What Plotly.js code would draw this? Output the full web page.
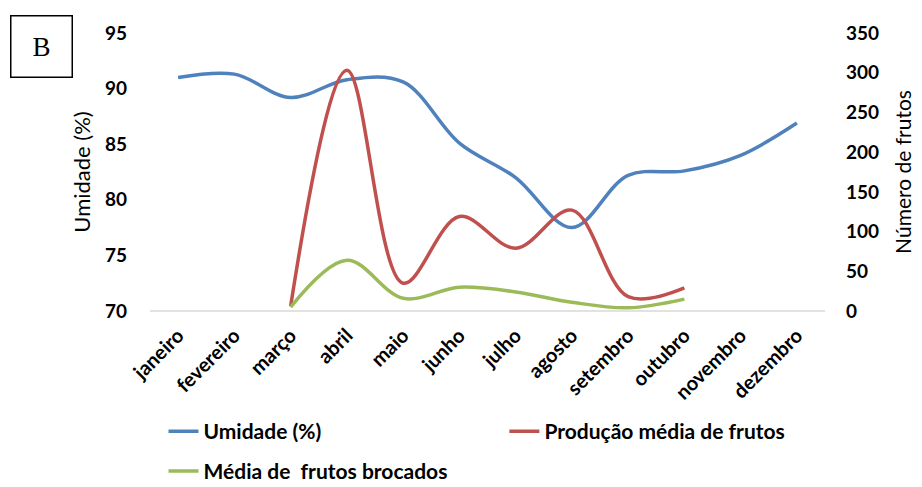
<!DOCTYPE html>
<html>
<head>
<meta charset="utf-8">
<script src="https://cdn.plot.ly/plotly-3.0.1.min.js"></script>
<style>html,body{margin:0;padding:0;background:#fff;}#chart{width:922px;height:487px;}</style>
</head>
<body>
<div id="chart"></div>
<script>
const months = ["janeiro","fevereiro","março","abril","maio","junho","julho","agosto","setembro","outubro","novembro","dezembro"];
const umidade = [91.0, 91.3, 89.2, 90.8, 90.6, 85.1, 82.0, 77.5, 82.2, 82.6, 84.0, 86.9];
const producao = [null, null, 6, 303, 35, 119, 79, 127, 18, 29, null, null];
const brocados = [null, null, 5, 64, 16, 30, 24, 11, 4, 15, null, null];
const leftTicks = [70, 75, 80, 85, 90, 95];
const rightTicks = [0, 50, 100, 150, 200, 250, 300, 350];

const tickFont = {family: "Lato, 'Liberation Sans', sans-serif", size: 19, color: "#000", weight: "bold"};
const legFont = {family: "'Liberation Sans Narrow', Lato, sans-serif", size: 21, color: "#000", weight: "bold"};

const traces = [
  {x: months, y: umidade, name: "Umidade (%)", type: "scatter", mode: "lines",
   line: {color: "#4F81BD", width: 3.5, shape: "spline", smoothing: 1}, yaxis: "y", legend: "legend"},
  {x: months, y: producao, name: "Produção média de frutos", type: "scatter", mode: "lines",
   line: {color: "#C0504D", width: 3.5, shape: "spline", smoothing: 1}, yaxis: "y2", legend: "legend2"},
  {x: months, y: brocados, name: "Média de  frutos brocados", type: "scatter", mode: "lines",
   line: {color: "#9BBB59", width: 3.5, shape: "spline", smoothing: 1}, yaxis: "y2", legend: "legend3"}
];

const legBase = {orientation: "h", xanchor: "left", yanchor: "top", yref: "container", font: legFont, bgcolor: "rgba(0,0,0,0)"};

const layout = {
  width: 922, height: 487,
  margin: {l: 150, r: 97, t: 33, b: 176},
  paper_bgcolor: "#fff", plot_bgcolor: "#fff",
  showlegend: true,
  xaxis: {
    type: "category", range: [-0.5, 11.5], showgrid: false, zeroline: false,
    showline: false, ticks: "", tickangle: -45,
    tickfont: {family: "Lato, sans-serif", size: 20, color: "#000", weight: "bold"},
    ticklabelstandoff: 8
  },
  yaxis: {
    range: [70, 95], tickvals: leftTicks, showgrid: false, zeroline: false, showline: false,
    ticks: "", tickfont: tickFont, ticklabelstandoff: 22,
    title: {text: "Umidade (%)", font: {family: "Lato, sans-serif", size: 22, color: "#000"}, standoff: 8}
  },
  yaxis2: {
    range: [0, 350], tickvals: rightTicks, overlaying: "y", side: "right", showgrid: false,
    zeroline: false, showline: false, ticks: "", tickfont: tickFont, ticklabelstandoff: 20,
    title: {text: "Número de frutos", font: {family: "Lato, sans-serif", size: 21, color: "#000"}, standoff: 18}
  },
  shapes: [
    {type: "line", xref: "paper", yref: "paper", x0: 0, x1: 1, y0: 0, y1: 0, line: {color: "#D9D9D9", width: 1.5}, layer: "below"}
  ],
  annotations: [
    {text: "B", xref: "paper", yref: "paper", x: -0.1607, y: 0.951, showarrow: false,
     font: {family: "'Liberation Serif', serif", size: 27, color: "#000"},
     width: 60, height: 60, bordercolor: "#000", borderwidth: 1.5, borderpad: 0, xanchor: "center", yanchor: "middle"}
  ],
  legend: Object.assign({}, legBase, {x: 0.02, y: 0.156}),
  legend2: Object.assign({}, legBase, {x: 0.525, y: 0.156}),
  legend3: Object.assign({}, legBase, {x: 0.02, y: 0.074})
};

Plotly.newPlot("chart", traces, layout, {displayModeBar: false, staticPlot: true});
</script>
</body>
</html>
